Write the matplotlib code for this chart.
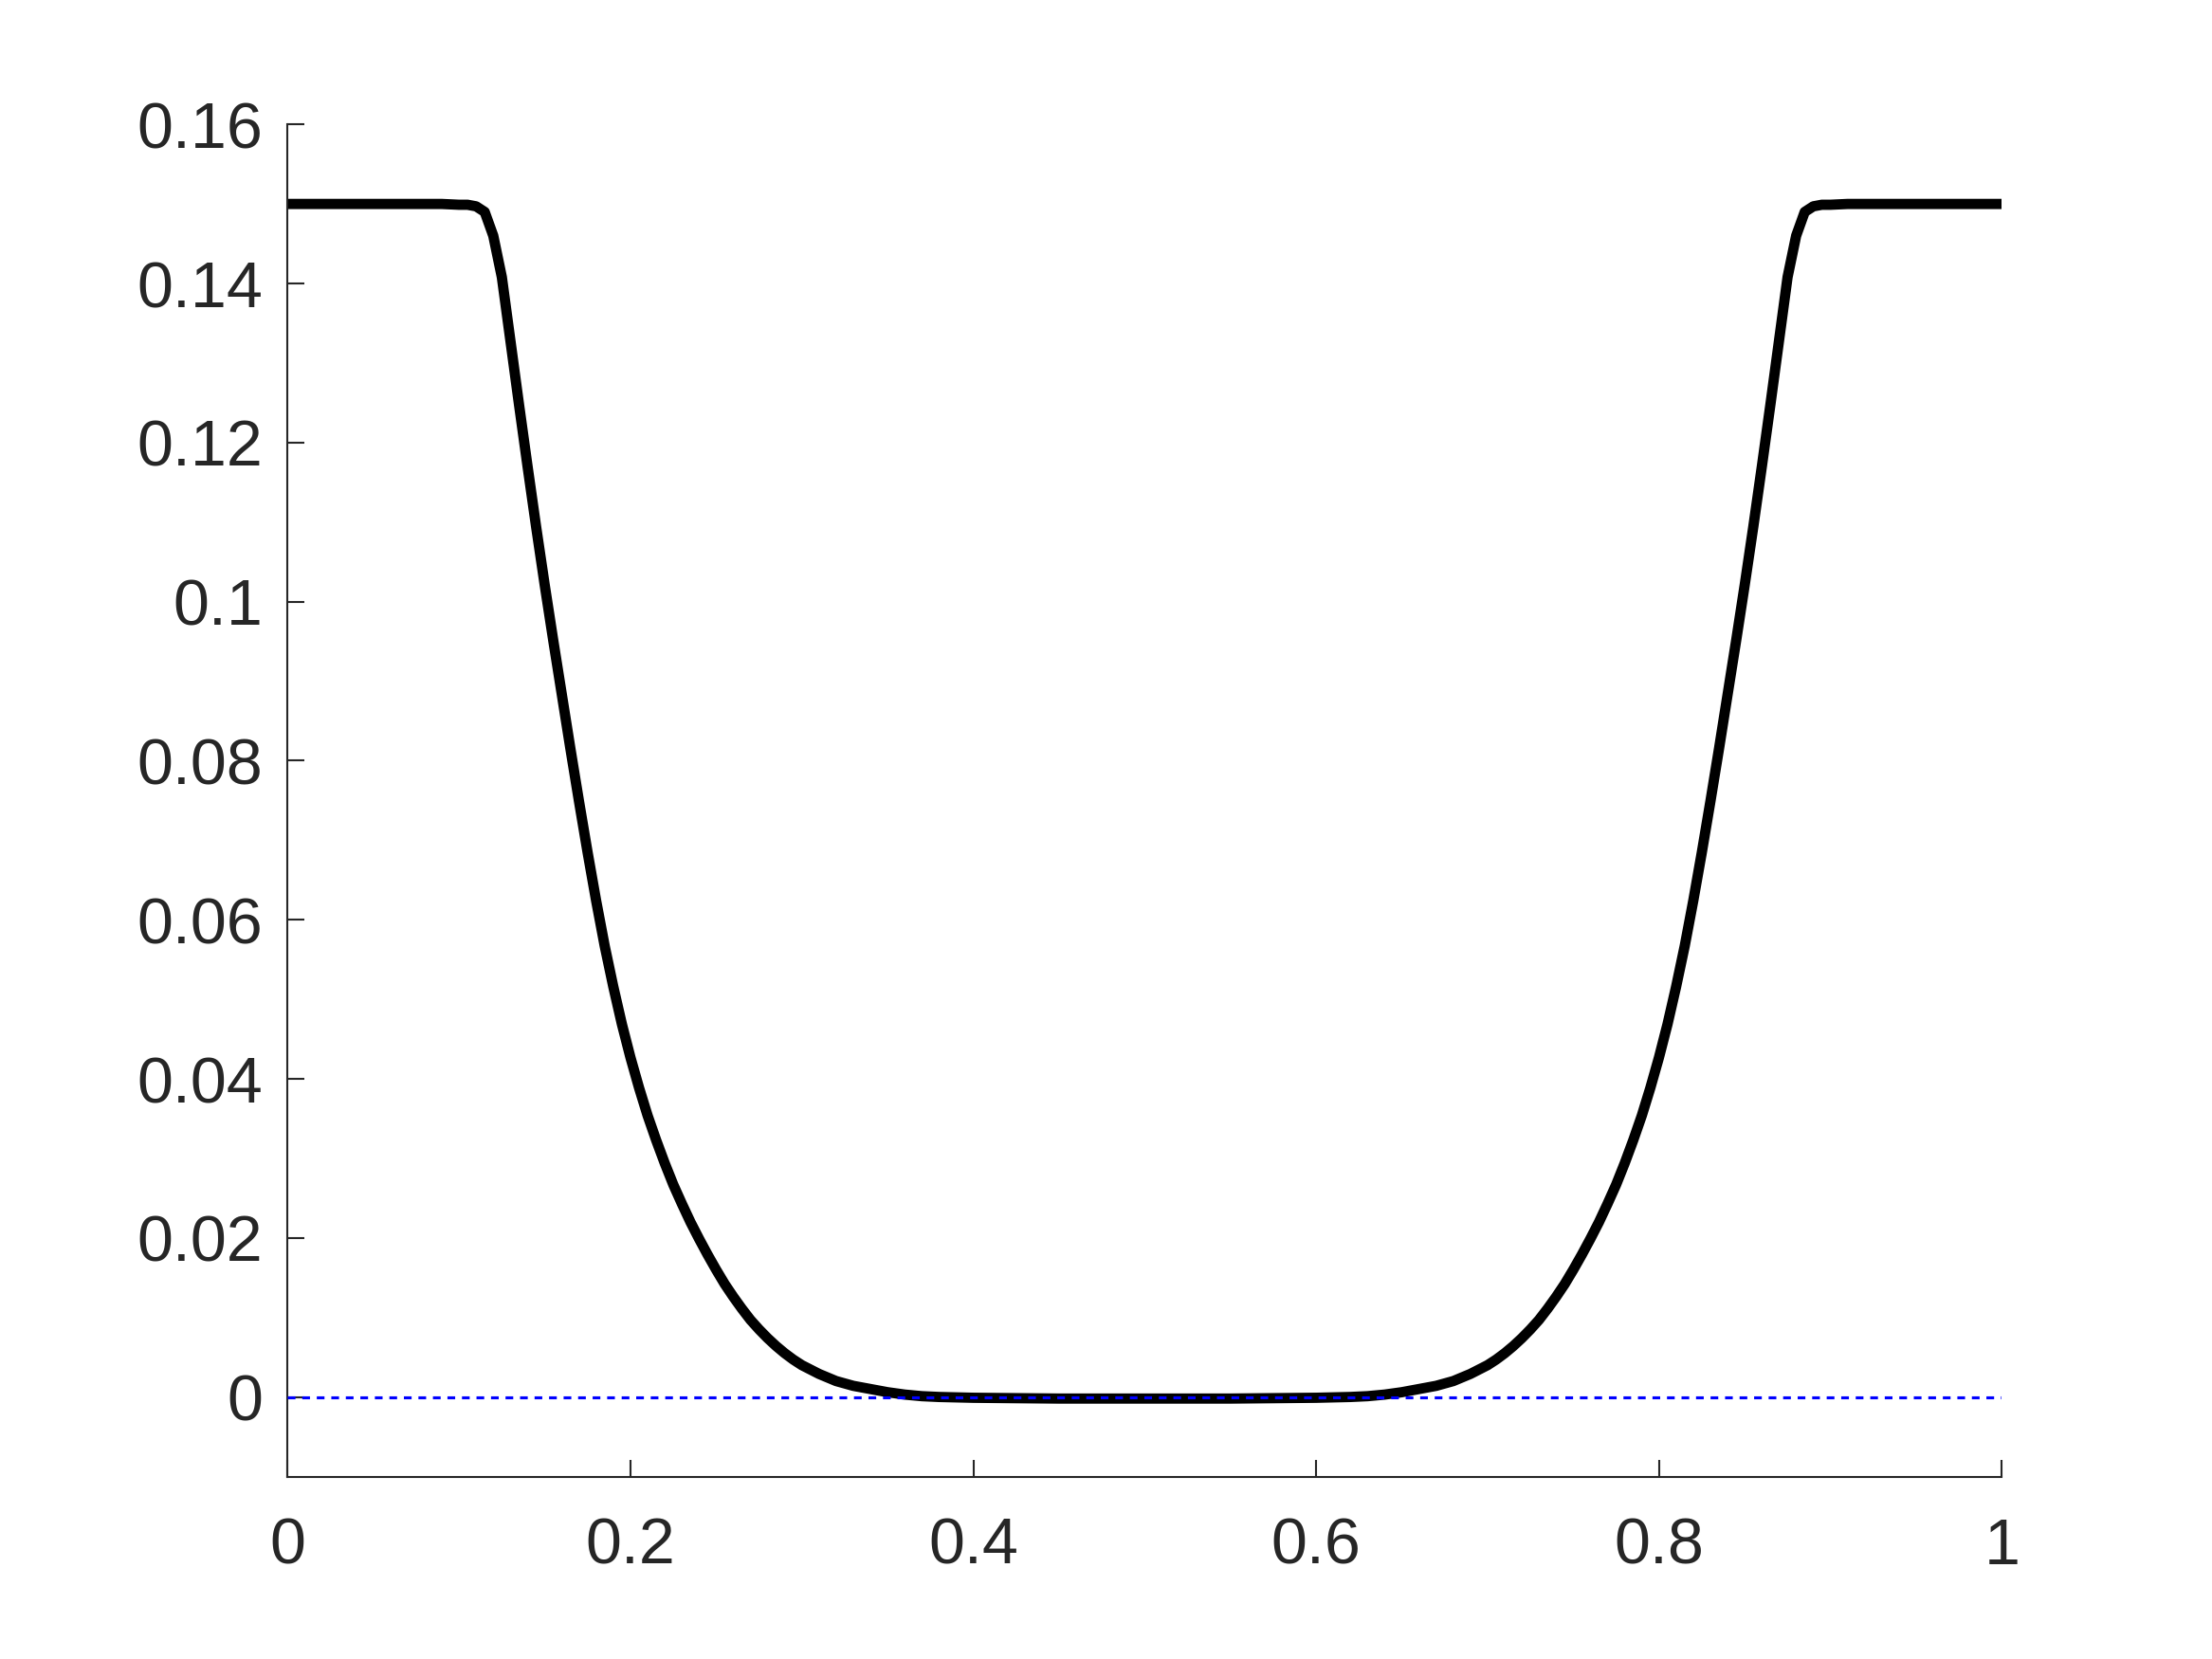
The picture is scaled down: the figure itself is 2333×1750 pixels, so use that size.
import matplotlib
matplotlib.use("Agg")
import matplotlib.pyplot as plt

plt.rcParams['font.family'] = ['Liberation Sans', 'DejaVu Sans']

# ---- data ----
x_left = [0.000, 0.050, 0.090, 0.100, 0.105, 0.110, 0.115, 0.120, 0.125, 0.130,
          0.135, 0.140, 0.145, 0.150, 0.155, 0.160, 0.165, 0.170, 0.175, 0.180,
          0.185, 0.190, 0.195, 0.200, 0.205, 0.210, 0.215, 0.220, 0.225, 0.230,
          0.235, 0.240, 0.245, 0.250, 0.255, 0.260, 0.265, 0.270, 0.275, 0.280,
          0.285, 0.290, 0.295, 0.300, 0.310, 0.320, 0.330, 0.340, 0.350, 0.360,
          0.370, 0.380, 0.400, 0.450, 0.500]
y_left = [0.1500, 0.1500, 0.1500, 0.1499, 0.1499, 0.1497, 0.1490, 0.1460, 0.1408, 0.1328,
          0.1248, 0.1170, 0.1094, 0.1021, 0.0951, 0.0883, 0.0815, 0.0749, 0.0685, 0.0624,
          0.0567, 0.0516, 0.0469, 0.0427, 0.0389, 0.0354, 0.0323, 0.0294, 0.0267, 0.0243,
          0.0220, 0.0199, 0.0179, 0.0160, 0.0142, 0.0126, 0.0111, 0.0097, 0.0085, 0.0074,
          0.0064, 0.0055, 0.0047, 0.0040, 0.0029, 0.0020, 0.0014, 0.0010, 0.0006, 0.0003,
          0.0001, 0.0000, -0.0001, -0.0002, -0.0002]

x_right = [0.550, 0.600, 0.620, 0.630, 0.640, 0.650, 0.660, 0.670, 0.680, 0.690,
           0.700, 0.705, 0.710, 0.715, 0.720, 0.725, 0.730, 0.735, 0.740, 0.745,
           0.750, 0.755, 0.760, 0.765, 0.770, 0.775, 0.780, 0.785, 0.790, 0.795,
           0.800, 0.805, 0.810, 0.815, 0.820, 0.825, 0.830, 0.835, 0.840, 0.845,
           0.850, 0.855, 0.860, 0.865, 0.870, 0.875, 0.880, 0.885, 0.890, 0.895,
           0.900, 0.910, 0.950, 1.000]
y_right = [-0.0002, -0.0001, 0.0000, 0.0001, 0.0003, 0.0006, 0.0010, 0.0014, 0.0020, 0.0029,
           0.0040, 0.0047, 0.0055, 0.0064, 0.0074, 0.0085, 0.0097, 0.0111, 0.0126, 0.0142,
           0.0160, 0.0179, 0.0199, 0.0220, 0.0243, 0.0267, 0.0294, 0.0323, 0.0354, 0.0389,
           0.0427, 0.0469, 0.0516, 0.0567, 0.0624, 0.0685, 0.0749, 0.0815, 0.0883, 0.0951,
           0.1021, 0.1094, 0.1170, 0.1248, 0.1328, 0.1408, 0.1460, 0.1490, 0.1497, 0.1499,
           0.1499, 0.1500, 0.1500, 0.1500]

x_ticks = [0, 0.2, 0.4, 0.6, 0.8, 1]
x_labels = ['0', '0.2', '0.4', '0.6', '0.8', '1']
y_ticks = [0, 0.02, 0.04, 0.06, 0.08, 0.1, 0.12, 0.14, 0.16]
y_labels = ['0', '0.02', '0.04', '0.06', '0.08', '0.1', '0.12', '0.14', '0.16']

x_curve = x_left + x_right
y_curve = y_left + y_right

# ---- figure ----
fig = plt.figure(figsize=(2333 / 300, 1750 / 300), dpi=300)
ax = fig.add_axes([0.13, 0.11, 0.775, 0.815])

ax.plot(x_curve, y_curve, color='black', linewidth=2.6,
        solid_capstyle='butt', zorder=2)
ax.plot([0, 1], [0, 0], color=(0, 0, 1), linewidth=0.75,
        linestyle=(0, (2.6, 2.3)), zorder=3)

ax.set_xlim(0, 1)
ax.set_ylim(-0.01, 0.16)

ax.spines['top'].set_visible(False)
ax.spines['right'].set_visible(False)
for s in ['left', 'bottom']:
    ax.spines[s].set_color('#262626')
    ax.spines[s].set_linewidth(0.5)

ax.set_xticks(x_ticks)
ax.set_xticklabels(x_labels)
ax.set_yticks(y_ticks)
ax.set_yticklabels(y_labels)
ax.tick_params(axis='both', direction='in', length=4.3, width=0.5,
               colors='#262626', labelsize=16.4)
ax.tick_params(axis='x', pad=10.2)
ax.tick_params(axis='y', pad=6.3)

fig.savefig('out.png', dpi=300, facecolor='white')
